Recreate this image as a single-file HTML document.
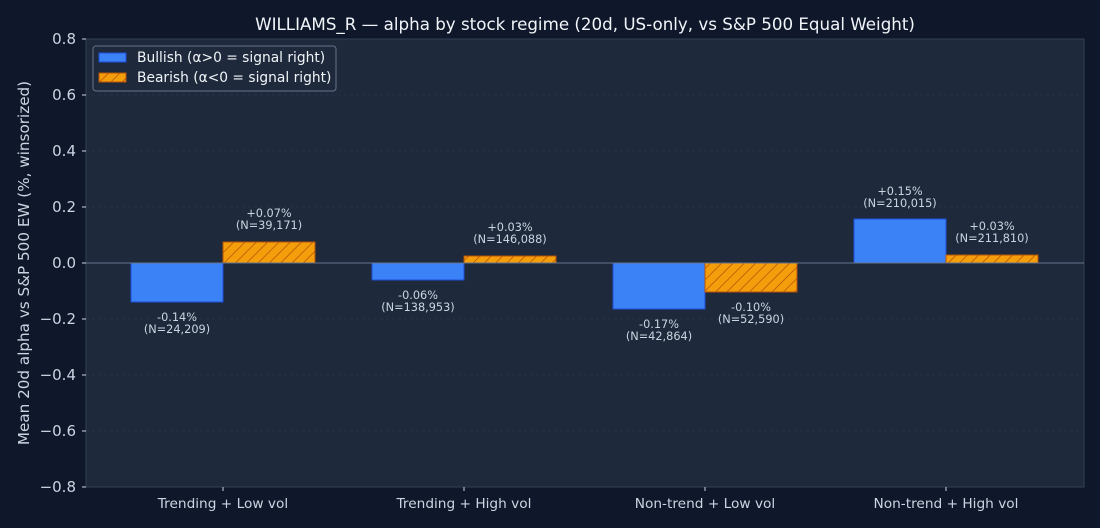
<!DOCTYPE html>
<html><head><meta charset="utf-8"><style>
html,body{margin:0;padding:0;background:#0f172a;}
svg{display:block;font-family:"DejaVu Sans","Liberation Sans",sans-serif;}
</style></head><body>
<svg width="1100" height="528" viewBox="0 0 1100 528" xmlns="http://www.w3.org/2000/svg">
<defs>
<pattern id="h" patternUnits="userSpaceOnUse" width="8" height="8" patternTransform="rotate(45)">
<rect width="8" height="8" fill="#f59e0b"/><line x1="0" y1="0" x2="0" y2="8" stroke="#b45309" stroke-width="1.5"/>
</pattern>
</defs>
<rect width="1100" height="528" fill="#0f172a"/>
<rect x="86" y="39" width="998" height="448" fill="#1e293b" stroke="#334155"/>
<g stroke="#2b3648" stroke-dasharray="3,3" stroke-width="0.8">
<line x1="86" x2="1084" y1="95" y2="95"/><line x1="86" x2="1084" y1="151" y2="151"/><line x1="86" x2="1084" y1="207" y2="207"/>
<line x1="86" x2="1084" y1="319" y2="319"/><line x1="86" x2="1084" y1="375" y2="375"/><line x1="86" x2="1084" y1="431" y2="431"/>
</g>
<text x="585" y="30" fill="#f1f5f9" font-size="16.7" text-anchor="middle">WILLIAMS_R — alpha by stock regime (20d, US-only, vs S&amp;P 500 Equal Weight)</text>
<g fill="#cbd5e1" font-size="15" text-anchor="end">
<text x="76" y="44">0.8</text><text x="76" y="100">0.6</text><text x="76" y="156">0.4</text><text x="76" y="212">0.2</text>
<text x="76" y="268">0.0</text><text x="76" y="324">−0.2</text><text x="76" y="380">−0.4</text><text x="76" y="436">−0.6</text><text x="76" y="492">−0.8</text>
</g>
<g stroke="#cbd5e1"><line x1="82" x2="86" y1="39" y2="39"/><line x1="82" x2="86" y1="95" y2="95"/><line x1="82" x2="86" y1="151" y2="151"/><line x1="82" x2="86" y1="207" y2="207"/><line x1="82" x2="86" y1="263" y2="263"/><line x1="82" x2="86" y1="319" y2="319"/><line x1="82" x2="86" y1="375" y2="375"/><line x1="82" x2="86" y1="431" y2="431"/><line x1="82" x2="86" y1="487" y2="487"/>
<line x1="223" x2="223" y1="487" y2="491"/><line x1="464" x2="464" y1="487" y2="491"/><line x1="705" x2="705" y1="487" y2="491"/><line x1="946" x2="946" y1="487" y2="491"/></g>
<text transform="translate(29,263) rotate(-90)" fill="#cbd5e1" font-size="15.2" text-anchor="middle">Mean 20d alpha vs S&amp;P 500 EW (%, winsorized)</text>
<g fill="#cbd5e1" font-size="13.7" text-anchor="middle">
<text x="223" y="508">Trending + Low vol</text><text x="464" y="508">Trending + High vol</text><text x="705" y="508">Non-trend + Low vol</text><text x="946" y="508">Non-trend + High vol</text>
</g>
<g fill="#3b82f6" stroke="#1d4ed8">
<rect x="131" y="263" width="92" height="39"/>
<rect x="372" y="263" width="92" height="17"/>
<rect x="613" y="263" width="92" height="46"/>
<rect x="854" y="219" width="92" height="44"/>
</g>
<g fill="url(#h)" stroke="#b45309">
<rect x="223" y="242" width="92" height="21"/>
<rect x="464" y="256" width="92" height="7"/>
<rect x="705" y="263" width="92" height="29"/>
<rect x="946" y="255" width="92" height="8"/>
</g>
<line x1="86" x2="1084" y1="263" y2="263" stroke="#64748b" stroke-width="1"/>
<g fill="#cbd5e1" font-size="11.3" text-anchor="middle">
<text x="177" y="321">-0.14%</text><text x="177" y="333">(N=24,209)</text>
<text x="269" y="217">+0.07%</text><text x="269" y="229">(N=39,171)</text>
<text x="418" y="299">-0.06%</text><text x="418" y="311">(N=138,953)</text>
<text x="510" y="231">+0.03%</text><text x="510" y="243">(N=146,088)</text>
<text x="659" y="328">-0.17%</text><text x="659" y="340">(N=42,864)</text>
<text x="751" y="311">-0.10%</text><text x="751" y="323">(N=52,590)</text>
<text x="900" y="195">+0.15%</text><text x="900" y="207">(N=210,015)</text>
<text x="992" y="230">+0.03%</text><text x="992" y="242">(N=211,810)</text>
</g>
<rect x="93" y="46" width="243" height="45" rx="3" fill="#1e293b" stroke="#64748b" stroke-width="1"/>
<rect x="99" y="53" width="27" height="9" fill="#3b82f6" stroke="#1d4ed8"/>
<rect x="99" y="73" width="27" height="9" fill="url(#h)" stroke="#b45309"/>
<g fill="#f1f5f9" font-size="13.8"><text x="137" y="62">Bullish (α&gt;0 = signal right)</text><text x="137" y="82">Bearish (α&lt;0 = signal right)</text></g>
</svg>
</body></html>
